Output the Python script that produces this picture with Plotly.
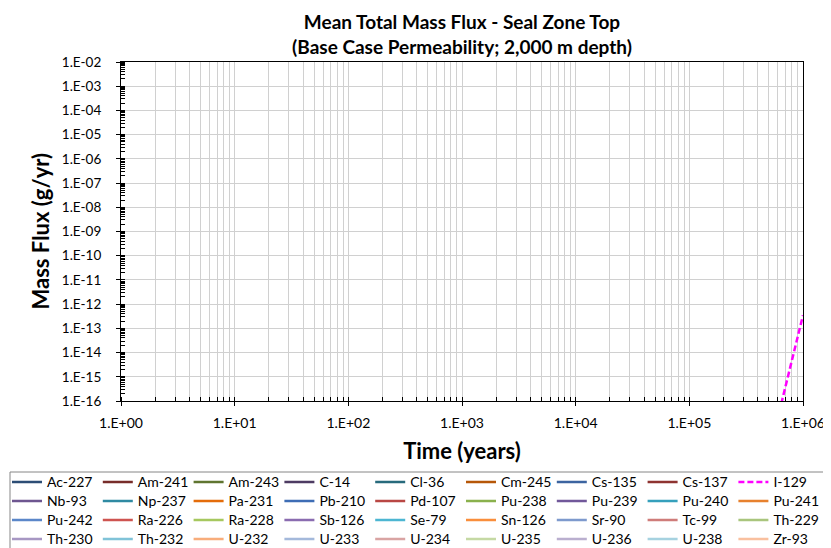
import plotly.graph_objects as go

# ---------------- data ----------------
time_years = [1.0, 10.0, 100.0, 1000.0, 1.0e4, 1.0e5, 5.0e5, 6.0e5, 7.0e5, 8.0e5, 9.0e5, 1.0e6]
i129_flux = [0, 0, 0, 0, 0, 0, 1.0e-19, 2.0e-17, 4.0e-16, 5.0e-15, 4.5e-14, 3.5e-13]
no_flux = [0, 0, 0, 0, 0, 0, 0, 0, 0, 0, 0, 0]

nuclides = ["Ac-227", "Am-241", "Am-243", "C-14", "Cl-36", "Cm-245", "Cs-135", "Cs-137", "I-129",
            "Nb-93", "Np-237", "Pa-231", "Pb-210", "Pd-107", "Pu-238", "Pu-239", "Pu-240", "Pu-241",
            "Pu-242", "Ra-226", "Ra-228", "Sb-126", "Se-79", "Sn-126", "Sr-90", "Tc-99", "Th-229",
            "Th-230", "Th-232", "U-232", "U-233", "U-234", "U-235", "U-236", "U-238", "Zr-93"]
flux_by_nuclide = {n: no_flux for n in nuclides}
flux_by_nuclide["I-129"] = i129_flux

colors = ["#2C4D75", "#772C2A", "#5F7530", "#4D3B62", "#276A7C", "#B65708", "#3C64A0", "#8E3330", "#FF00FF",
          "#6E5690", "#2F8AA2", "#E46C0A", "#3E6DB5", "#B94744", "#8AB14D", "#71589A", "#35A0BC", "#E7812E",
          "#5B87C9", "#CE5450", "#A6C85F", "#8A6CB0", "#4DB6D2", "#F98E3C", "#7E9ACD", "#CF7C7A", "#A9C57D",
          "#A797C3", "#80C3D8", "#F8AD7B", "#A4B9DB", "#D9A4A3", "#C5D9A4", "#BAAFCF", "#A6D2E0", "#F9C09F"]

x_tickvals = [1, 10, 100, 1000, 1e4, 1e5, 1e6]
x_ticktext = ["1.E+00", "1.E+01", "1.E+02", "1.E+03", "1.E+04", "1.E+05", "1.E+06"]
y_tickvals = [10.0 ** e for e in range(-16, -1)]
y_ticktext = ["1.E-16", "1.E-15", "1.E-14", "1.E-13", "1.E-12", "1.E-11", "1.E-10", "1.E-09",
              "1.E-08", "1.E-07", "1.E-06", "1.E-05", "1.E-04", "1.E-03", "1.E-02"]

# ---------------- layout geometry (figure pixels; page has an 8px body margin) ----------------
OFF = 8
W, H = 831 - OFF, 548 - OFF
L, R, T, B = 121 - OFF, 803 - OFF, 62 - OFF, 401 - OFF
pw, ph = R - L, B - T
FONT = "Lato, Carlito, Calibri, sans-serif"

n_cols = 9
col_text_x0 = 47.0 - OFF
col_step = 90.8
row_y0 = 482.0 - OFF
row_step = 19.0
LEG_FONT = 14
item_h = LEG_FONT * 1.3 + 3

fig = go.Figure()
legends = {}
for i, name in enumerate(nuclides):
    col, row = i % n_cols, i // n_cols
    key = "legend" if i == 0 else f"legend{i + 1}"
    dashed = name == "I-129"
    fig.add_trace(go.Scatter(
        x=time_years, y=flux_by_nuclide[name], name=name, mode="lines",
        line=dict(color=colors[i], width=2.5, dash="6px,3px" if dashed else "solid"),
        legend=key, showlegend=True, hoverinfo="skip",
    ))
    left_px = col_text_x0 + col * col_step - 40
    top_px = row_y0 + row * row_step - item_h / 2 - 5
    legends[key] = dict(
        orientation="v", xref="paper", yref="paper",
        x=(left_px - L) / pw, xanchor="left",
        y=(B - top_px) / ph, yanchor="top",
        bgcolor="rgba(0,0,0,0)", borderwidth=0,
        font=dict(family=FONT, size=LEG_FONT, color="#000000"),
        itemwidth=30, itemclick=False, itemdoubleclick=False,
    )

axis_common = dict(
    type="log", showline=True, linecolor="#000000", linewidth=1, mirror=True,
    ticks="outside", ticklen=4, tickcolor="#000000", tickwidth=1,
    zeroline=False,
)

fig.update_layout(
    width=W, height=H,
    margin=dict(l=L, r=W - R, t=T, b=H - B, autoexpand=False),
    paper_bgcolor="#FFFFFF", plot_bgcolor="#FFFFFF",
    title=dict(
        text="Mean Total Mass Flux - Seal Zone Top<br>(Base Case Permeability; 2,000 m depth)",
        font=dict(family=FONT, size=19, color="#000000", weight="bold"),
        x=(462 - OFF) / W, xanchor="center", xref="container",
        y=1 - 21 / H, yanchor="top", yref="container",
    ),
    xaxis=dict(
        **axis_common, range=[0, 6], tickvals=x_tickvals, ticktext=x_ticktext,
        tickfont=dict(family=FONT, size=14, color="#000000"),
        showgrid=True, gridcolor="#D0D0D0", gridwidth=1,
        ticklabelstandoff=5,
        minor=dict(dtick="D1", ticks="inside", ticklen=4, tickcolor="#000000",
                   showgrid=True, gridcolor="#D0D0D0", gridwidth=1),
        title=dict(text="Time (years)", font=dict(family=FONT, size=22, color="#000000", weight="bold"),
                   standoff=13),
    ),
    yaxis=dict(
        **axis_common, range=[-16, -2], tickvals=y_tickvals, ticktext=y_ticktext,
        tickfont=dict(family=FONT, size=13.5, color="#000000"),
        showgrid=True, gridcolor="#D0D0D0", gridwidth=1,
        ticklabelstandoff=12,
        minor=dict(dtick="D1", ticks="inside", ticklen=4, tickcolor="#000000", showgrid=False),
    ),
    xaxis2=dict(type="log", overlaying="x", anchor="y", side="bottom", range=[0, 6],
                tickvals=x_tickvals, ticks="inside", ticklen=4, tickcolor="#000000",
                showticklabels=False, showgrid=False, showline=False, zeroline=False),
    yaxis2=dict(type="log", overlaying="y", anchor="x", side="left", range=[-16, -2],
                tickvals=y_tickvals, ticks="inside", ticklen=4, tickcolor="#000000",
                showticklabels=False, showgrid=False, showline=False, zeroline=False),
    annotations=[dict(text="Mass Flux (g/yr)", textangle=-90, showarrow=False,
                      xref="paper", yref="paper", x=(40 - OFF - L) / pw, y=0.5,
                      xanchor="center", yanchor="middle",
                      font=dict(family=FONT, size=22, color="#000000", weight="bold"))],
    shapes=[dict(type="rect", xref="paper", yref="paper",
                 x0=(10 - OFF - L) / pw, x1=(830 - OFF - L) / pw,
                 y0=(B - (472 - OFF)) / ph, y1=(B - 600) / ph,
                 line=dict(color="#868686", width=1), fillcolor="rgba(0,0,0,0)", layer="above")],
    showlegend=True,
    **legends,
)

fig.write_html("out.html")
